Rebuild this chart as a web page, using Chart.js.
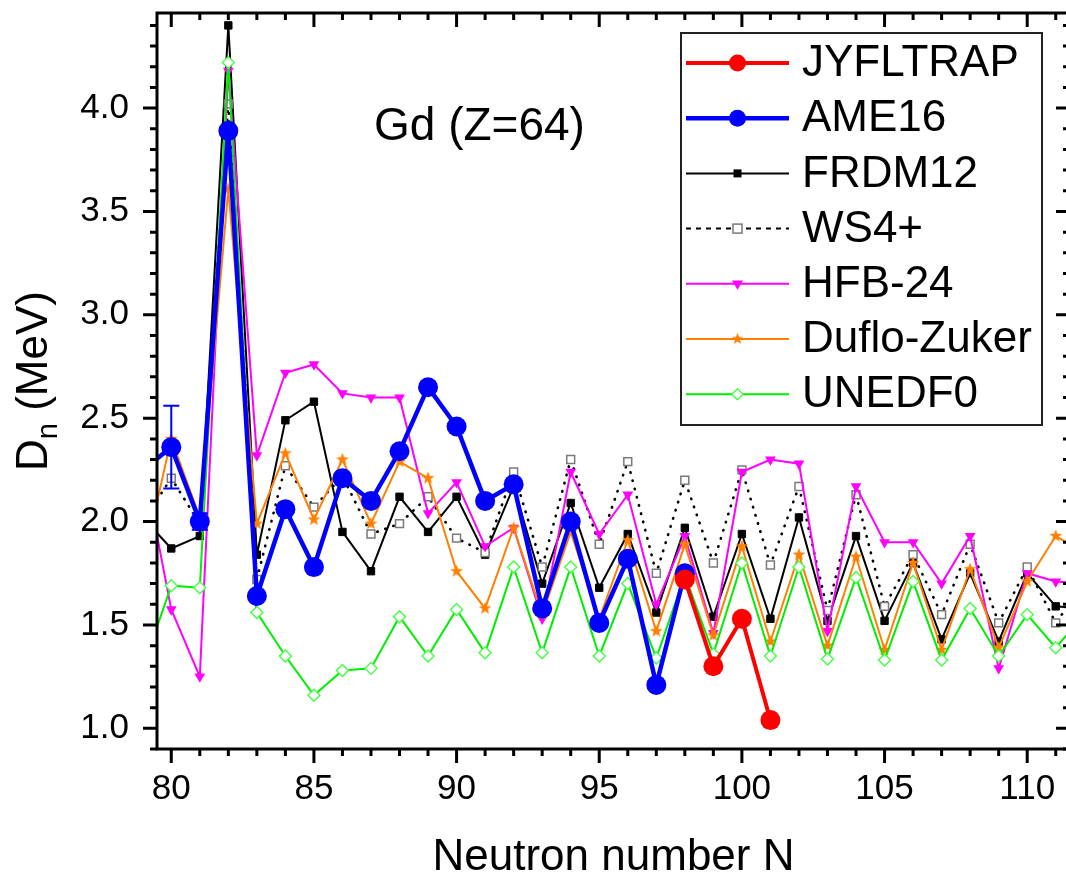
<!DOCTYPE html>
<html><head><meta charset="utf-8">
<script src="https://cdn.jsdelivr.net/npm/chart.js@4.4.1/dist/chart.umd.min.js"></script>
<style>
html,body{margin:0;padding:0;background:#fff;overflow:hidden;}
#wrap{width:1066px;height:877px;overflow:hidden;position:relative;}
canvas{display:block;}
</style>
</head><body><div id="wrap"><canvas id="c" width="1080" height="877"></canvas></div>
<script>
const neutronN = [79,80,81,82,83,84,85,86,87,88,89,90,91,92,93,94,95,96,97,98,99,100,101,102,103,104,105,106,107,108,109,110,111,112];
const jyfltrap = [null,null,null,null,null,null,null,null,null,null,null,null,null,null,null,null,null,null,null,1.72,1.30,1.53,1.04,null,null,null,null,null,null,null,null,null,null,null];
const ame16 = [2.25,2.36,2.00,3.89,1.64,2.06,1.78,2.21,2.10,2.34,2.65,2.46,2.10,2.18,1.58,2.00,1.51,1.82,1.21,1.75,null,null,null,null,null,null,null,null,null,null,null,null,null,null];
const ame16Err = [0,0.20,0.04,0,0,0,0,0,0,0,0,0,0,0,0,0,0,0,0,0,null,null,null,null,null,null,null,null,null,null,null,null,null,null];
const frdm12 = [2.02,1.87,1.93,4.40,1.84,2.49,2.58,1.95,1.76,2.12,1.95,2.12,1.84,2.17,1.70,2.09,1.68,1.94,1.56,1.97,1.54,1.94,1.53,2.02,1.52,1.93,1.52,1.80,1.43,1.75,1.42,1.75,1.59,1.58];
const ws4 = [2.00,2.21,1.99,4.02,1.72,2.27,2.07,2.22,1.94,1.99,2.12,1.92,1.85,2.24,1.78,2.30,1.89,2.29,1.75,2.20,1.80,2.25,1.79,2.17,1.57,2.13,1.59,1.84,1.55,1.89,1.51,1.78,1.51,1.70];
const hfb24 = [2.29,1.575,1.25,4.18,2.32,2.72,2.76,2.62,2.60,2.60,2.04,2.19,1.88,1.97,1.53,2.24,1.94,2.13,1.60,1.93,1.46,2.24,2.30,2.28,1.47,2.17,1.90,1.90,1.70,1.93,1.29,1.75,1.71,1.70];
const dufloZuker = [1.79,2.40,2.02,3.61,1.99,2.33,2.01,2.30,1.99,2.29,2.21,1.76,1.58,1.97,1.55,1.95,1.53,1.91,1.47,1.89,1.45,1.88,1.42,1.84,1.40,1.83,1.38,1.80,1.38,1.77,1.39,1.71,1.93,1.85];
const unedf0 = [1.29,1.69,1.68,4.22,1.56,1.35,1.16,1.28,1.29,1.54,1.35,1.575,1.365,1.78,1.365,1.78,1.35,1.70,1.34,1.74,1.36,1.80,1.35,1.78,1.335,1.73,1.33,1.71,1.33,1.58,1.35,1.55,1.39,1.55];
const xTickValues = [80,85,90,95,100,105,110];
const yTickValues = [1.0,1.5,2.0,2.5,3.0,3.5,4.0];
const yTickLabels = ['1.0','1.5','2.0','2.5','3.0','3.5','4.0'];
const seriesNames = ['JYFLTRAP','AME16','FRDM12','WS4+','HFB-24','Duflo-Zuker','UNEDF0'];

const FONT = "'Liberation Sans', Arial, sans-serif";

function makeStar(color, R, r) {
  const s = Math.ceil(2 * R + 2);
  const c = document.createElement('canvas');
  c.width = s; c.height = s;
  const g = c.getContext('2d');
  g.beginPath();
  for (let i = 0; i < 10; i++) {
    const rad = (i % 2) ? r : R;
    const a = -Math.PI / 2 + i * Math.PI / 5;
    g.lineTo(s / 2 + rad * Math.cos(a), s / 2 + rad * Math.sin(a));
  }
  g.closePath();
  g.fillStyle = color;
  g.fill();
  return c;
}
const starImg = makeStar('#ff8000', 6.8, 2.8);
const starLegend = makeStar('#ff8000', 6.2, 2.6);

function pts(arr) { return neutronN.map((n, i) => ({x: n, y: arr[i]})); }

const datasets = [
  {label: seriesNames[0], data: pts(jyfltrap), borderColor: '#ff0000', backgroundColor: '#ff0000', borderWidth: 4,
   pointStyle: 'circle', pointRadius: 10, pointBorderWidth: 0, order: 0, lg: {type: 'circle', r: 8.5, w: 4}},
  {label: seriesNames[1], data: pts(ame16), borderColor: '#0000ff', backgroundColor: '#0000ff', borderWidth: 4.5,
   pointStyle: 'circle', pointRadius: 10, pointBorderWidth: 0, order: 1, lg: {type: 'circle', r: 8.5, w: 4.5}},
  {label: seriesNames[2], data: pts(frdm12), borderColor: '#000000', backgroundColor: '#000000', borderWidth: 2,
   pointStyle: 'rect', pointRadius: 5.2, pointBorderWidth: 1, order: 6, lg: {type: 'rect', r: 4, w: 2}},
  {label: seriesNames[3], data: pts(ws4), borderColor: '#000000', backgroundColor: '#ffffff', borderWidth: 2.6,
   borderDash: [0.5, 8], borderCapStyle: 'round', pointStyle: 'rect', pointRadius: 5.6, pointBorderWidth: 1.5,
   pointBorderColor: '#7a7a7a', pointBackgroundColor: '#ffffff', order: 5, lg: {type: 'orect', r: 4.5, w: 2, dash: [5, 5]}},
  {label: seriesNames[4], data: pts(hfb24), borderColor: '#ff00ff', backgroundColor: '#ff00ff', borderWidth: 2,
   pointStyle: 'triangle', pointRotation: 180, pointRadius: 6.2, pointBorderWidth: 0, order: 4, lg: {type: 'tri', r: 5.5, w: 2}},
  {label: seriesNames[5], data: pts(dufloZuker), borderColor: '#ff8000', backgroundColor: '#ff8000', borderWidth: 2,
   pointStyle: starImg, order: 3, lg: {type: 'star', w: 2}},
  {label: seriesNames[6], data: pts(unedf0), borderColor: '#00ee00', backgroundColor: '#ffffff', borderWidth: 2,
   pointStyle: 'rectRot', pointRadius: 6, pointBorderWidth: 1.4, pointBorderColor: '#44ff44', pointBackgroundColor: '#ffffff',
   order: 2, lg: {type: 'diamond', r: 5.5, w: 2}}
];
datasets.forEach(d => { d.clip = 0; d.tension = 0; d.spanGaps = false; d.pointHoverRadius = d.pointRadius; });

const framePlugin = {
  id: 'frame',
  afterDatasetsDraw(chart) {
    const ctx = chart.ctx, xs = chart.scales.x, ys = chart.scales.y, ca = chart.chartArea;
    ctx.save();
    ctx.beginPath(); ctx.rect(ca.left, ca.top, ca.right - ca.left, ca.bottom - ca.top); ctx.clip();
    ctx.strokeStyle = '#0000ff'; ctx.lineWidth = 2;
    neutronN.forEach((n, i) => {
      const e = ame16Err[i], v = ame16[i];
      if (e && v != null) {
        const px = xs.getPixelForValue(n), yt = ys.getPixelForValue(v + e), yb = ys.getPixelForValue(v - e);
        ctx.beginPath();
        ctx.moveTo(px, yt); ctx.lineTo(px, yb);
        ctx.moveTo(px - 8, yt); ctx.lineTo(px + 8, yt);
        ctx.moveTo(px - 8, yb); ctx.lineTo(px + 8, yb);
        ctx.stroke();
      }
    });
    ctx.restore();
  },
  afterDraw(chart) {
    const ctx = chart.ctx, xs = chart.scales.x, ys = chart.scales.y;
    const {left, right, top, bottom} = chart.chartArea;
    ctx.save();
    ctx.strokeStyle = '#000'; ctx.lineWidth = 3; ctx.lineCap = 'butt';
    ctx.strokeRect(left, top, right - left, bottom - top);
    ctx.beginPath();
    for (let n = Math.ceil(xs.min); n <= xs.max; n++) {
      const px = xs.getPixelForValue(n), L = (n % 5 === 0) ? 14 : 7;
      ctx.moveTo(px, bottom); ctx.lineTo(px, bottom + L);
      ctx.moveTo(px, top); ctx.lineTo(px, top + L);
    }
    for (let k = Math.ceil(ys.min * 10 - 1e-6); k <= Math.floor(ys.max * 10 + 1e-6); k++) {
      const py = ys.getPixelForValue(k / 10), L = (k % 5 === 0) ? 14 : 7;
      ctx.moveTo(left, py); ctx.lineTo(left - L, py);
      ctx.moveTo(right, py); ctx.lineTo(right - L, py);
    }
    ctx.stroke();

    ctx.fillStyle = '#000';
    ctx.font = '46px ' + FONT;
    ctx.textAlign = 'left'; ctx.textBaseline = 'alphabetic';
    ctx.fillText('Gd (Z=64)', 374, 140);

    ctx.font = '44px ' + FONT;
    ctx.textAlign = 'center';
    ctx.fillText('Neutron number N', (left + right) / 2, 870);

    ctx.save();
    ctx.translate(47, (top + bottom) / 2);
    ctx.rotate(-Math.PI / 2);
    ctx.textAlign = 'left';
    ctx.font = '44px ' + FONT; const wD = ctx.measureText('D').width;
    ctx.font = '29px ' + FONT; const wn = ctx.measureText('n').width;
    ctx.font = '44px ' + FONT; const wr = ctx.measureText(' (MeV)').width;
    let x0 = -(wD + wn + wr) / 2;
    ctx.font = '44px ' + FONT; ctx.fillText('D', x0, 0); x0 += wD;
    ctx.font = '29px ' + FONT; ctx.fillText('n', x0, 10); x0 += wn;
    ctx.font = '44px ' + FONT; ctx.fillText(' (MeV)', x0, 0);
    ctx.restore();

    const bx = 681, by = 33, bw = 361, bh = 392;
    ctx.fillStyle = '#fff'; ctx.fillRect(bx, by, bw, bh);
    ctx.strokeStyle = '#222'; ctx.lineWidth = 2; ctx.strokeRect(bx, by, bw, bh);
    chart.data.datasets.forEach((d, i) => {
      const cy = 63 + i * 55.2, lg = d.lg;
      ctx.save();
      ctx.strokeStyle = d.borderColor; ctx.lineWidth = lg.w;
      ctx.setLineDash(lg.dash || []);
      ctx.beginPath(); ctx.moveTo(686, cy); ctx.lineTo(789, cy); ctx.stroke();
      ctx.setLineDash([]);
      const mx = 737.5;
      if (lg.type === 'circle') {
        ctx.fillStyle = d.backgroundColor; ctx.beginPath(); ctx.arc(mx, cy, lg.r, 0, Math.PI * 2); ctx.fill();
      } else if (lg.type === 'rect') {
        ctx.fillStyle = d.backgroundColor; ctx.fillRect(mx - lg.r, cy - lg.r, 2 * lg.r, 2 * lg.r);
      } else if (lg.type === 'orect') {
        ctx.fillStyle = '#fff'; ctx.fillRect(mx - lg.r, cy - lg.r, 2 * lg.r, 2 * lg.r);
        ctx.strokeStyle = '#7a7a7a'; ctx.lineWidth = 1.5; ctx.strokeRect(mx - lg.r, cy - lg.r, 2 * lg.r, 2 * lg.r);
      } else if (lg.type === 'tri') {
        ctx.fillStyle = d.backgroundColor; ctx.beginPath();
        ctx.moveTo(mx - lg.r, cy - lg.r * 0.6); ctx.lineTo(mx + lg.r, cy - lg.r * 0.6); ctx.lineTo(mx, cy + lg.r * 1.1);
        ctx.closePath(); ctx.fill();
      } else if (lg.type === 'star') {
        ctx.drawImage(starLegend, mx - starLegend.width / 2, cy - starLegend.height / 2);
      } else if (lg.type === 'diamond') {
        ctx.fillStyle = '#fff'; ctx.strokeStyle = '#44ff44'; ctx.lineWidth = 1.4;
        ctx.beginPath(); ctx.moveTo(mx, cy - lg.r); ctx.lineTo(mx + lg.r, cy); ctx.lineTo(mx, cy + lg.r); ctx.lineTo(mx - lg.r, cy);
        ctx.closePath(); ctx.fill(); ctx.stroke();
      }
      ctx.restore();
      ctx.fillStyle = '#000'; ctx.font = '44px ' + FONT; ctx.textAlign = 'left'; ctx.textBaseline = 'middle';
      ctx.fillText(d.label, 802, cy + 1);
    });
    ctx.restore();
  }
};

new Chart(document.getElementById('c'), {
  type: 'line',
  data: {datasets},
  options: {
    responsive: false,
    devicePixelRatio: 1,
    animation: false,
    events: [],
    layout: {padding: {left: 0, top: 13, right: 8, bottom: 0}},
    plugins: {legend: {display: false}, tooltip: {enabled: false}, title: {display: false}},
    scales: {
      x: {
        type: 'linear', min: 79.5, max: 111.5,
        grid: {display: false, drawTicks: false, tickLength: 0},
        border: {display: false},
        afterBuildTicks: s => { s.ticks = xTickValues.map(v => ({value: v})); },
        afterFit: s => { s.height = 128; s.paddingLeft = 0; s.paddingRight = 0; },
        ticks: {font: {family: FONT, size: 35, lineHeight: 1}, color: '#000', padding: 23, maxRotation: 0,
                callback: v => String(v)}
      },
      y: {
        type: 'linear', min: 0.9, max: 4.46,
        grid: {display: false, drawTicks: false, tickLength: 0},
        border: {display: false},
        afterBuildTicks: s => { s.ticks = yTickValues.map(v => ({value: v})); },
        afterFit: s => { s.width = 157; s.paddingTop = 0; s.paddingBottom = 0; },
        ticks: {font: {family: FONT, size: 35, lineHeight: 1}, color: '#000', padding: 28,
                callback: v => yTickLabels[yTickValues.indexOf(v)] ?? v.toFixed(1)}
      }
    }
  },
  plugins: [framePlugin]
});
</script>
</body></html>
